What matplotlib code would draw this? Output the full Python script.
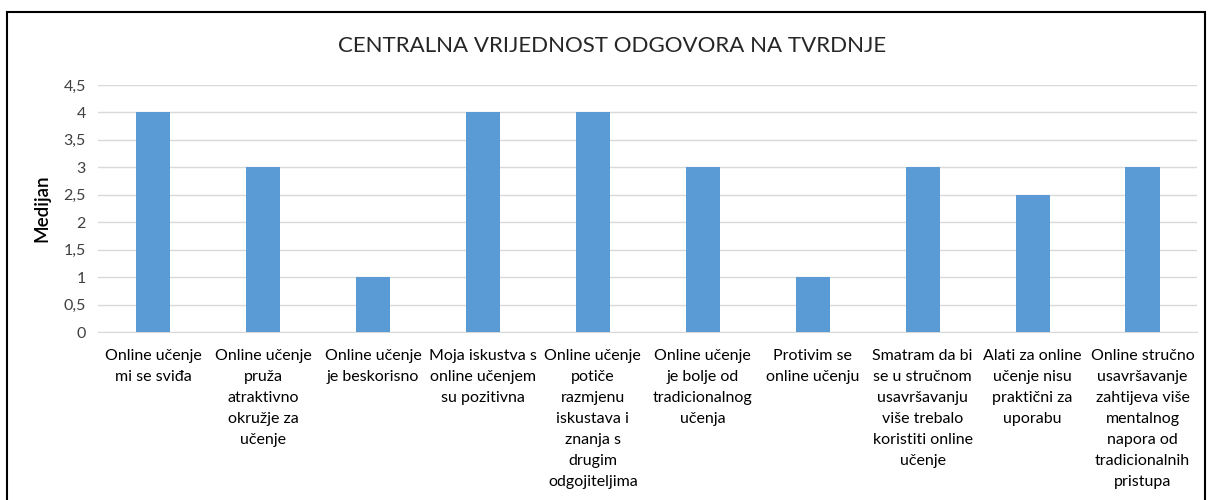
import matplotlib
matplotlib.use("Agg")
import matplotlib.pyplot as plt
from matplotlib.patches import Rectangle
from matplotlib.ticker import FuncFormatter

categories = [
    "Online učenje\nmi se sviđa",
    "Online učenje\npruža\natraktivno\nokružje za\nučenje",
    "Online učenje\nje beskorisno",
    "Moja iskustva s\nonline učenjem\nsu pozitivna",
    "Online učenje\npotiče\nrazmjenu\niskustava i\nznanja s\ndrugim\nodgojiteljima",
    "Online učenje\nje bolje od\ntradicionalnog\nučenja",
    "Protivim se\nonline učenju",
    "Smatram da bi\nse u stručnom\nusavršavanju\nviše trebalo\nkoristiti online\nučenje",
    "Alati za online\nučenje nisu\npraktični za\nuporabu",
    "Online stručno\nusavršavanje\nzahtijeva više\nmentalnog\nnapora od\ntradicionalnih\npristupa",
]
values = [4, 3, 1, 4, 4, 3, 1, 3, 2.5, 3]
yticks = [0, 0.5, 1, 1.5, 2, 2.5, 3, 3.5, 4, 4.5]

plt.rcParams['font.family'] = ['Lato', 'DejaVu Sans']

fig = plt.figure(figsize=(12.12, 5.0), dpi=100)
ax = fig.add_axes([0.081, 0.336, 0.907, 0.494])

x = list(range(len(categories)))
ax.bar(x, values, width=0.31, color="#5B9BD5", zorder=3)
ax.set_xlim(-0.5, len(categories) - 0.5)
ax.set_ylim(0, 4.5)
ax.set_yticks(yticks)
ax.yaxis.set_major_formatter(FuncFormatter(lambda v, p: ("%g" % v).replace(".", ",")))
ax.grid(axis="y", color="#D9D9D9", linewidth=1, zorder=0)
for s in ["top", "right", "left"]:
    ax.spines[s].set_visible(False)
ax.spines["bottom"].set_color("#D9D9D9")
ax.tick_params(axis="both", length=0, colors="#404040")
ax.tick_params(axis="y", pad=9, labelsize=11.5)
ax.set_xticks(x)
ax.set_xticklabels(categories, fontsize=11.5, color="#000000", linespacing=1.64, va="top")
ax.tick_params(axis="x", pad=12, labelcolor="#000000")
ax.set_ylabel("Medijan", fontsize=13.5, color="#000000", labelpad=9, fontweight="semibold")

fig.text(0.505, 0.907, "CENTRALNA VRIJEDNOST ODGOVORA NA TVRDNJE", ha="center", va="center",
         fontsize=16, color="#262626")

fig.patches.append(Rectangle((0.006, -0.1), 0.988, 1.076, transform=fig.transFigure,
                             fill=False, edgecolor="black", linewidth=1.5))

fig.savefig("out.png", dpi=100)
